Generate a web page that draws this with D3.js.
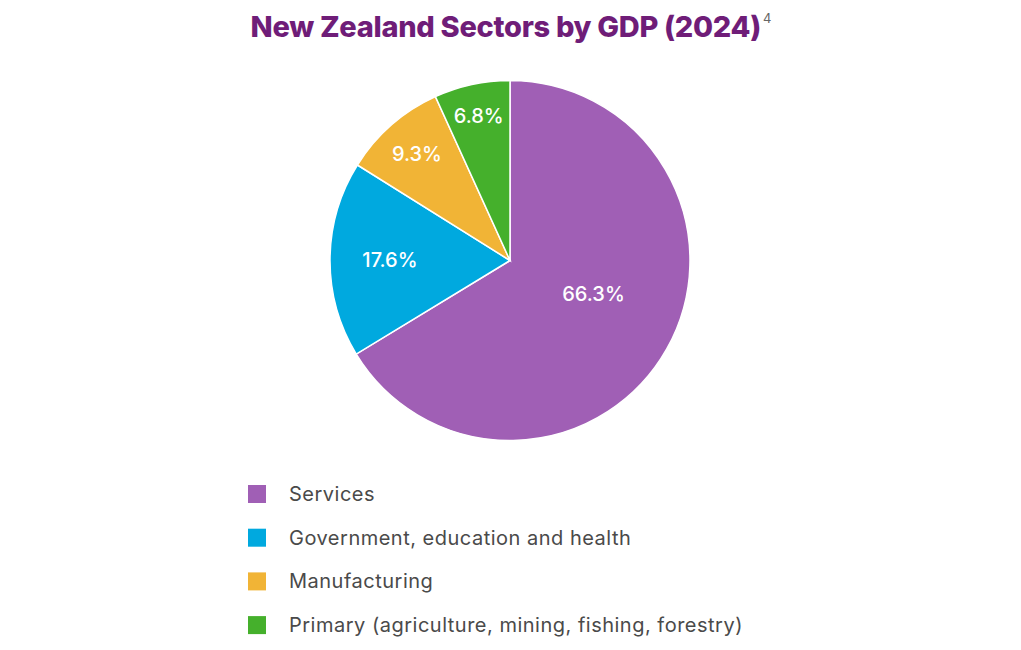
<!DOCTYPE html>
<html>
<head>
<meta charset="utf-8">
<title>New Zealand Sectors by GDP (2024)</title>
<script src="https://d3js.org/d3.v7.min.js"></script>
<style>
  body { margin: 0; background: #fff; }
  svg { display: block; }
</style>
</head>
<body>
<script>
// data
var sectors = ["Services", "Government, education and health", "Manufacturing", "Primary (agriculture, mining, fishing, forestry)"];
var shares = [66.3, 17.6, 9.3, 6.8];
var colors = ["#A05FB5", "#00A9DF", "#F1B436", "#45B02C"];

var w = 1021, h = 650;
var cx = 510, cy = 260.5, radius = 180;

var svg = d3.select("body").append("svg")
  .attr("width", w)
  .attr("height", h);

// title
var title = svg.append("text")
  .attr("x", 511)
  .attr("y", 37)
  .attr("text-anchor", "middle")
  .attr("font-family", "Inter, 'Noto Sans', sans-serif")
  .attr("font-weight", 800)
  .attr("font-size", "29px")
  .attr("fill", "#6F1D78")
  .attr("letter-spacing", "-0.3px")
  .text("New Zealand Sectors by GDP (2024)");
title.append("tspan")
  .attr("font-size", "13px")
  .attr("font-weight", 400)
  .attr("fill", "#666")
  .attr("letter-spacing", "0")
  .attr("dy", "-14")
  .attr("dx", "2")
  .text("4");

var data = sectors.map(function(s, i) { return { name: s, value: shares[i], color: colors[i] }; });

var pie = d3.pie()
  .value(function(d) { return d.value; })
  .sort(null);

var arc = d3.arc().innerRadius(0).outerRadius(radius);

// label distance from centre depends on slice size
var labelR = d3.scaleLinear()
  .domain([6.8, 17.6, 66.3])
  .range([0.82, 0.667, 0.5])
  .clamp(true);

var g = svg.append("g").attr("transform", "translate(" + cx + "," + cy + ")");

var arcs = pie(data);

g.selectAll("path")
  .data(arcs)
  .enter()
  .append("path")
  .attr("d", arc)
  .attr("fill", function(d) { return d.data.color; })
  .attr("stroke", "#fff")
  .attr("stroke-width", 1.5);

g.selectAll("text.lbl")
  .data(arcs)
  .enter()
  .append("text")
  .attr("class", "lbl")
  .attr("transform", function(d) {
    var r = radius * labelR(d.data.value);
    // big slice: pull the label a bit towards the upper side, as in the source
    var a = (d.startAngle + d.endAngle) / 2 - (d.endAngle - d.startAngle > Math.PI ? 0.13 : 0);
    return "translate(" + (r * Math.sin(a)) + "," + (-r * Math.cos(a)) + ")";
  })
  .attr("text-anchor", "middle")
  .attr("dy", "0.35em")
  .attr("font-family", "Inter, 'Noto Sans', sans-serif")
  .attr("font-weight", 500)
  .attr("font-size", "20px")
  .attr("fill", "#fff")
  .text(function(d) { return d.data.value.toFixed(1) + "%"; });

// legend
var legend = svg.append("g").attr("transform", "translate(248,485)");

var row = legend.selectAll("g")
  .data(data)
  .enter()
  .append("g")
  .attr("transform", function(d, i) { return "translate(0," + (i * 43.7) + ")"; });

row.append("rect")
  .attr("width", 18)
  .attr("height", 18)
  .attr("fill", function(d) { return d.color; });

row.append("text")
  .attr("x", 41)
  .attr("y", 9)
  .attr("dy", "0.35em")
  .attr("font-family", "Inter, 'Noto Sans', sans-serif")
  .attr("font-size", "20px")
  .attr("letter-spacing", "0.5px")
  .attr("fill", "#4A4A4A")
  .text(function(d) { return d.name; });
</script>
</body>
</html>
